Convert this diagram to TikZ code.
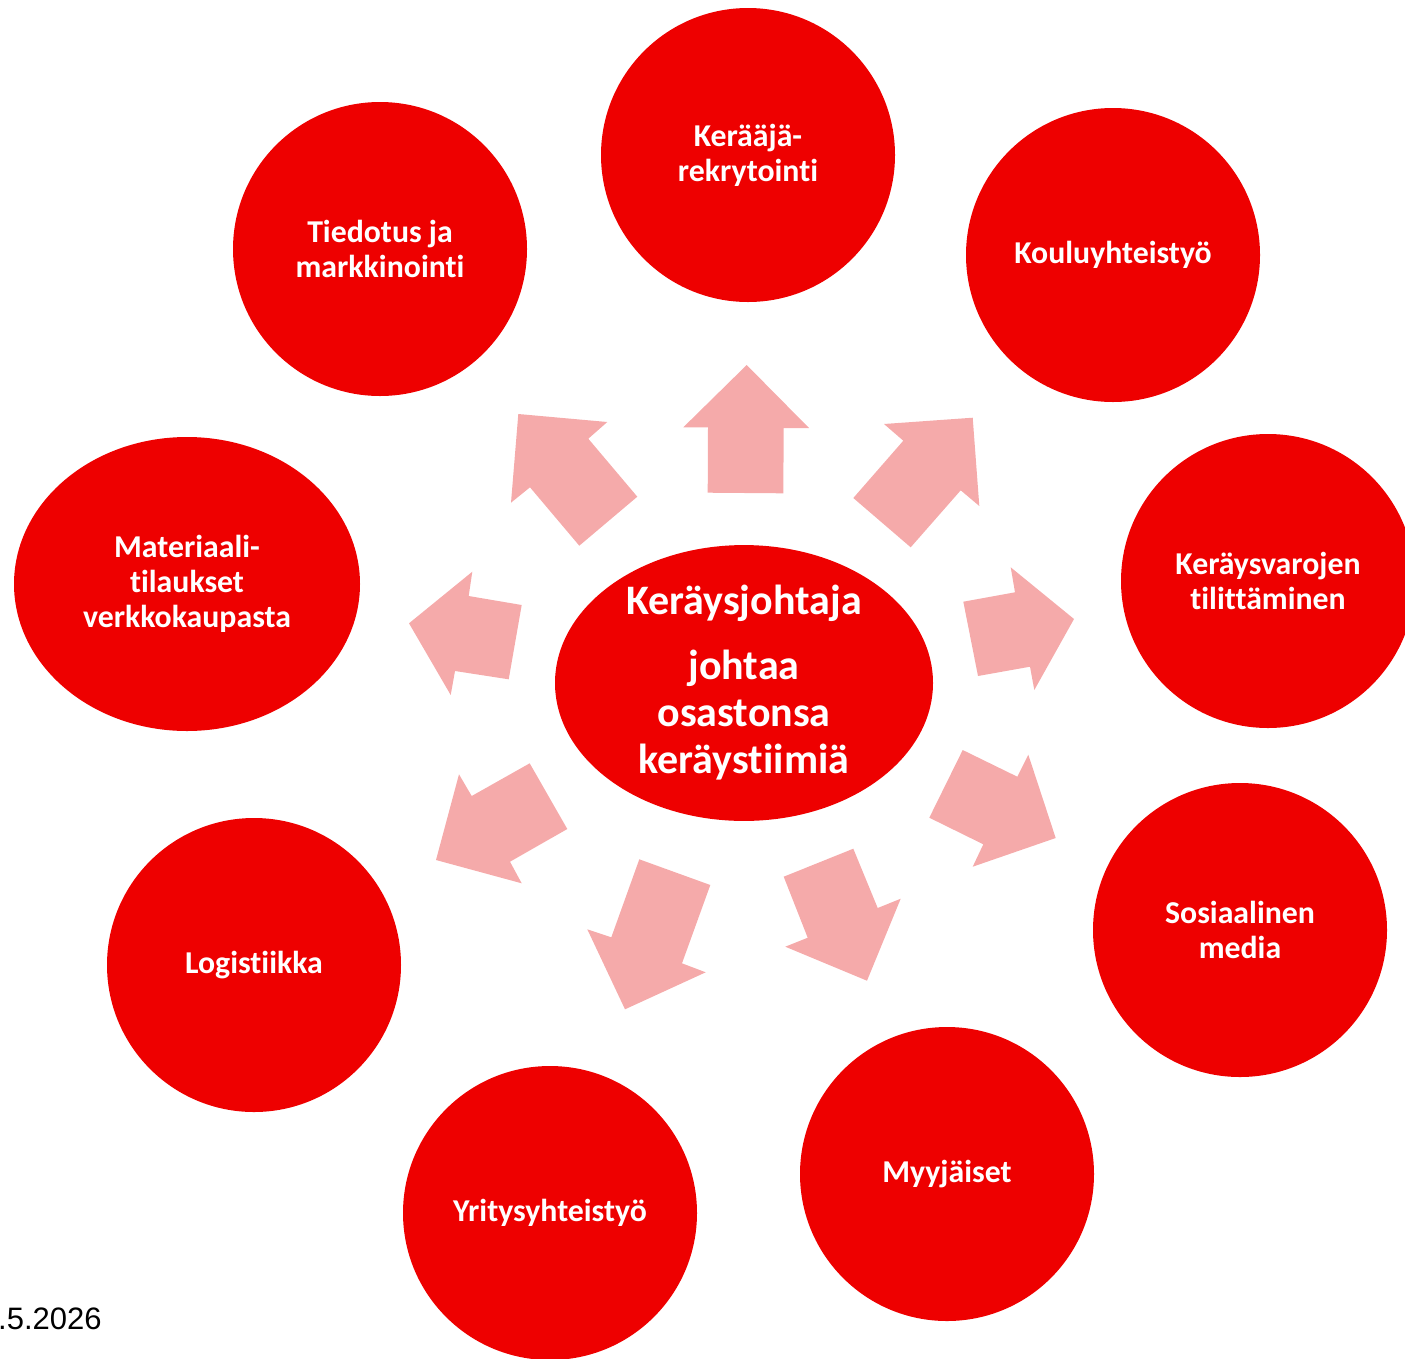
\documentclass[tikz,border=0pt]{standalone}
\usepackage{fontspec}
\setmainfont{Carlito}[Ligatures={NoCommon}]
\newfontfamily\datefont{Liberation Sans}
\usetikzlibrary{shapes.geometric}
\definecolor{kred}{RGB}{238,0,0}
\definecolor{kpink}{RGB}{245,170,170}
\tikzset{
  bubble/.style={circle, fill=kred, text=white, minimum size=294pt, inner sep=0pt, align=center,
    font=\fontsize{31.8}{35}\selectfont\bfseries},
  oval/.style={ellipse, fill=kred, text=white, inner sep=0pt, align=center,
    font=\fontsize{31.8}{35}\selectfont\bfseries},
  blockarrow/.style={fill=kpink, draw=none},
}
\begin{document}
\begin{tikzpicture}[x=1pt,y=-1pt]
\useasboundingbox (0,0) rectangle (1405,1358);
% arrows
\fill[blockarrow] (746.7,365) -- (809,428) -- (783.7,428) -- (783.3,493.3) -- (707.7,492.7) -- (708,427.3) -- (683.3,427.3) -- cycle;
\fill[blockarrow] (518.3,414) -- (607.3,422) -- (588.3,438.7) -- (637.3,496.7) -- (579.3,545.7) -- (530,487.3) -- (511,502.7) -- cycle;
\fill[blockarrow] (972.7,417.7) -- (979.3,506) -- (960.7,490.3) -- (910.7,547.3) -- (853.3,498) -- (903.3,440.7) -- (884,424) -- cycle;
\fill[blockarrow] (409,623.3) -- (472.3,571.7) -- (468.7,596) -- (521.7,605) -- (508.7,679.3) -- (455,671) -- (450.7,695) -- cycle;
\fill[blockarrow] (1074,619) -- (1010.7,567.3) -- (1015,592.3) -- (963.3,601.7) -- (978,676) -- (1030,666.7) -- (1034.3,690) -- cycle;
\fill[blockarrow] (436,860) -- (459,774.3) -- (471.7,796) -- (529.7,763.3) -- (567.3,829) -- (510,861.7) -- (521.7,883.3) -- cycle;
\fill[blockarrow] (1055.7,838) -- (1028.3,754.7) -- (1017.3,776.7) -- (962.7,750) -- (929.3,817.7) -- (983.3,844.3) -- (972.7,866.7) -- cycle;
\fill[blockarrow] (625,1009.3) -- (587.3,929.3) -- (611.3,937.3) -- (639.3,859.3) -- (710.3,885) -- (682,963.3) -- (705.7,972.3) -- cycle;
\fill[blockarrow] (867,980.7) -- (785.3,946.7) -- (807.7,937.7) -- (783.7,876.7) -- (853.3,848.7) -- (877.7,908) -- (900.7,898.7) -- cycle;
% centre
\node[oval, minimum width=378pt, minimum height=270pt,
  font=\fontsize{42}{47}\selectfont\bfseries] (center) at (744,683)
  {Keräysjohtaja\\[18pt]johtaa\\osastonsa\\keräystiimiä};
% outer circles
\node[bubble] (rekry) at (748,155) {Kerääjä-\\rekrytointi};
\node[bubble] (koulu) at (1113,255) {Kouluyhteistyö};
\node[bubble] (tilit) at (1268,581) {Keräysvarojen\\tilittäminen};
\node[bubble] (some) at (1240,930) {Sosiaalinen\\media};
\node[bubble] (myyj) at (947,1174) {Myyjäiset};
\node[bubble] (yritys) at (550,1213) {Yritysyhteistyö};
\node[bubble] (logi) at (254,965) {Logistiikka};
\node[oval, minimum width=346pt, minimum height=294pt] (mater) at (187,584) {Materiaali-\\tilaukset\\verkkokaupasta};
\node[bubble] (tiedo) at (380,249) {Tiedotus ja\\markkinointi};
% date
\node[anchor=base west, inner sep=0pt, font=\datefont\fontsize{31}{36}\selectfont] (date) at (-2,1329) {.5.2026};
\end{tikzpicture}
\end{document}
